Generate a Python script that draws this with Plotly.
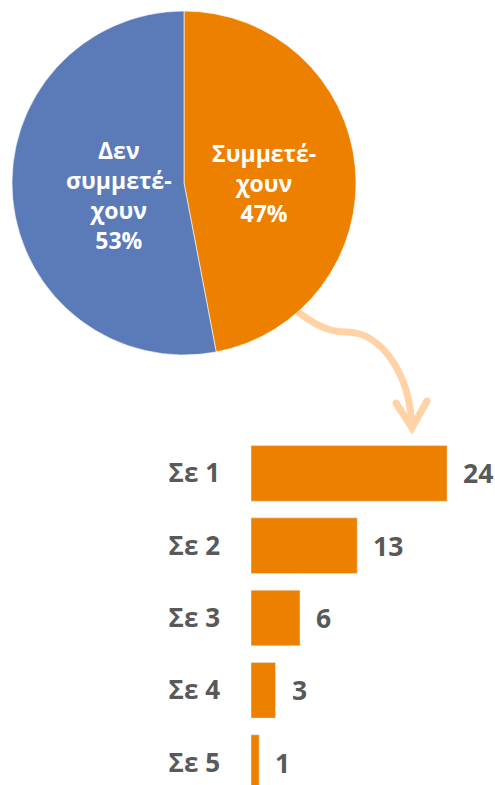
import plotly.graph_objects as go

# ---- data ----
pie_labels = ["Συμμετέχουν", "Δεν συμμετέχουν"]
pie_text_labels = ["Συμμετέ-<br>χουν", "Δεν<br>συμμετέ-<br>χουν"]
pie_values = [47, 53]
pie_colors = ["#EE8000", "#5B7BB8"]

bar_categories = ["Σε 1", "Σε 2", "Σε 3", "Σε 4", "Σε 5"]
bar_values = [24, 13, 6, 3, 1]

ORANGE = "#EE8000"
GREY = "#595959"
FONT = "Open Sans"

W, H = 495, 785


def px(x):
    return x / W


def py(y):
    return 1 - y / H


total = sum(pie_values)
pie_text = [f"{t}<br>{round(v * 100 / total)}%" for t, v in zip(pie_text_labels, pie_values)]

fig = go.Figure()

fig.add_trace(go.Pie(
    labels=pie_labels,
    values=pie_values,
    textinfo="none",
    marker=dict(colors=pie_colors, line=dict(color="white", width=0.6)),
    sort=False,
    direction="clockwise",
    rotation=0,
    showlegend=False,
    hoverinfo="skip",
    domain=dict(x=[px(12), px(356)], y=[py(355), py(11)]),
))

fig.add_trace(go.Bar(
    x=bar_values,
    y=bar_categories,
    orientation="h",
    marker=dict(color=ORANGE),
    showlegend=False,
    hoverinfo="skip",
))

annotations = []
# slice labels (placed inside each slice)
label_pos = [(264, 183), (119, 195)]
for t, (lx, ly) in zip(pie_text, label_pos):
    annotations.append(dict(
        x=px(lx), y=py(ly), xref="paper", yref="paper", text=t, showarrow=False,
        xanchor="center", yanchor="middle", align="center",
        font=dict(family=FONT, size=23, color="white", weight="bold"),
    ))
# bar value labels
for c, v in zip(bar_categories, bar_values):
    annotations.append(dict(
        x=v, y=c, xref="x", yref="y", text=str(v), showarrow=False,
        xanchor="left", xshift=14,
        font=dict(family=FONT, size=26.5, color=GREY, weight="bold"),
    ))


def path_paper(cmds):
    out = []
    for item in cmds:
        if isinstance(item, str):
            out.append(item)
        else:
            out.append(f"{px(item[0]):.5f},{py(item[1]):.5f}")
    return " ".join(out)


arrow_color = "#FFD3A5"
curve = path_paper(["M", (285, 300), "Q", (318, 333), (347, 332),
                    "C", (380, 332), (410, 372), (412, 428)])
head = path_paper(["M", (396, 403), "L", (412, 428), "L", (427, 401)])
shapes = [
    dict(type="path", xref="paper", yref="paper", layer="below", path=curve,
         line=dict(color=arrow_color, width=7)),
    dict(type="path", xref="paper", yref="paper", layer="below", path=head,
         line=dict(color=arrow_color, width=7)),
]
for (cx, cy) in [(396, 403), (427, 401)]:
    shapes.append(dict(type="circle", xref="paper", yref="paper", layer="below",
                       x0=px(cx - 3.5), x1=px(cx + 3.5), y0=py(cy + 3.5), y1=py(cy - 3.5),
                       fillcolor=arrow_color, line=dict(width=0)))

bar_left = 251
unit_px = 8.17
fig.update_layout(
    width=W, height=H,
    margin=dict(l=0, r=0, t=0, b=0),
    paper_bgcolor="white",
    plot_bgcolor="rgba(0,0,0,0)",
    bargap=0.23,
    xaxis=dict(domain=[px(bar_left), 1], range=[0, (W - bar_left) / unit_px],
               visible=False, fixedrange=True),
    yaxis=dict(domain=[0, py(430)], type="category", range=[4.31, -0.6],
               showgrid=False, zeroline=False, showline=False, ticks="",
               ticklabelstandoff=30, fixedrange=True,
               tickfont=dict(family=FONT, size=26, color=GREY, weight="bold")),
    annotations=annotations,
    shapes=shapes,
)

fig.write_html(
    "out.html",
    config={"displayModeBar": False},
    post_script="document.body.style.margin='0';document.body.style.overflow='hidden';",
)
